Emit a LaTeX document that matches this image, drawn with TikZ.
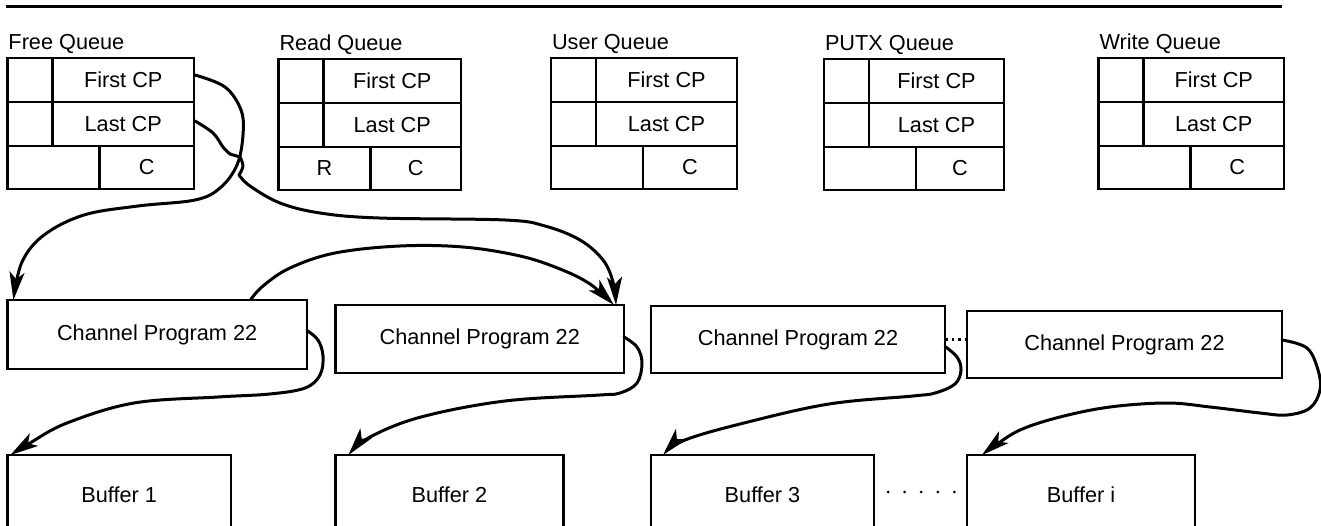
\documentclass[tikz,border=0pt]{standalone}
\usepackage{fontspec}
\setmainfont{Liberation Sans}
\usetikzlibrary{arrows.meta,calc}

\newcommand\diagfont{\fontsize{21.7}{26}\selectfont}

\tikzset{
  cell/.style={draw, line width=2.2pt, inner sep=0pt, outer sep=0pt, anchor=north west, font=\diagfont},
  qlabel/.style={anchor=base west, inner sep=0pt, outer sep=0pt, font=\diagfont},
  cpbox/.style={draw, line width=2.2pt, inner sep=0pt, outer sep=0pt, anchor=north west,
    minimum height=68pt, font=\diagfont},
  bufbox/.style={draw, line width=2.2pt, inner sep=0pt, outer sep=0pt, anchor=north west,
    minimum height=80pt, font=\diagfont},
  conn/.style={line width=3pt, line cap=round, line join=round,
    -{Stealth[length=28pt,width=15pt,inset=7pt]}},
  cpdots/.style={line width=2.6pt, dash pattern=on 2.5pt off 4pt},
  bufdots/.style={line width=3pt, line cap=round, dash pattern=on 0pt off 16.6pt},
}

% one queue header: name, left x, top y, width, title, text of the lower left cell
\newcommand\queuebox[6]{%
  \pgfmathsetmacro\qw{#4-45}%
  \pgfmathsetmacro\qb{#4-92}%
  \node[qlabel] (#1-title) at ({#2+1},{#3-8}) {#5};
  \node[cell, minimum width=45pt, minimum height=44pt] (#1-a) at (#2,#3) {};
  \node[cell, minimum width=\qw pt, minimum height=44pt] (#1-f) at ({#2+45},#3) {First CP};
  \node[cell, minimum width=45pt, minimum height=44pt] (#1-b) at (#2,{#3+44}) {};
  \node[cell, minimum width=\qw pt, minimum height=44pt] (#1-l) at ({#2+45},{#3+44}) {Last CP};
  \node[cell, minimum width=92pt, minimum height=43pt] (#1-r) at (#2,{#3+88}) {#6};
  \node[cell, minimum width=\qb pt, minimum height=43pt] (#1-c) at ({#2+92},{#3+88}) {C};
}

\begin{document}
\begin{tikzpicture}[x=1pt, y=-1pt]
  \fill[white] (0,0) rectangle (1321,526);
  \path[use as bounding box] (0,0) rectangle (1321,526);
  \clip (0,0) rectangle (1321,526);

  % rule across the top
  \draw[line width=2.6pt] (6,6.5) -- (1282,6.5);

  % queue headers
  \queuebox{fq}{7.5}{58}{186.5}{Free Queue}{}
  \queuebox{rq}{278.5}{59}{182.5}{Read Queue}{R}
  \queuebox{uq}{551}{58}{186}{User Queue}{}
  \queuebox{pq}{824}{59}{180}{PUTX Queue}{}
  \queuebox{wq}{1098.5}{58}{185.5}{Write Queue}{}

  % channel programs
  \node[cpbox, minimum width=299.5pt, minimum height=69pt] (cp1) at (7.4,300) {Channel Program 22};
  \node[cpbox, minimum width=288.5pt] (cp2) at (335.5,305) {Channel Program 22};
  \node[cpbox, minimum width=294pt, minimum height=67pt] (cp3) at (651,306) {Channel Program 22};
  \node[cpbox, minimum width=315pt, minimum height=67pt] (cp4) at (967,311) {Channel Program 22};

  % buffers
  \node[bufbox, minimum width=223.6pt] (buf1) at (7.4,455) {Buffer 1};
  \node[bufbox, minimum width=228pt] (buf2) at (335.4,455) {Buffer 2};
  \node[bufbox, minimum width=223pt] (buf3) at (651,455) {Buffer 3};
  \node[bufbox, minimum width=228pt] (bufi) at (967,455) {Buffer i};

  % free queue pointers
  \draw[conn] plot[smooth, tension=.6] coordinates {($(fq-f.east)+(1,-5)$) (225,87) (241,110)
    (243,135) (237,165) (220,188) (195,200) (138,206) (84,215) (44,235) (22,262)
    ($(cp1.north west)+(6,0)$)};
  \draw[conn] plot[smooth, tension=.6] coordinates {($(fq-l.east)+(1,-3)$) (213,133) (223,147) (230,154)}
    -- (240,157)
    -- plot[smooth, tension=.6] coordinates {(240,157) (243,166) (239,175)}
    -- plot[smooth, tension=.6] coordinates {(239,175) (250,186) (280,203) (320,213) (379,218)
    (505,220) (545,226) (580,240) (603,260) (613,282) ($(cp2.north east)+(-8,0)$)};

  % chain of channel programs
  \draw[conn] plot[smooth, tension=.6] coordinates {($(cp1.north west)+(243,0)$) (263,286) (290,268)
    (335,253) (400,246) (463,247) (520,256) (560,269) (590,284) ($(cp2.north east)+(-10,0)$)};
  \draw[cpdots] (cp3.east) -- (cp3.east -| cp4.west);

  % channel program to buffer
  \draw[conn] plot[smooth, tension=.6] coordinates {($(cp1.east)+(0,-4)$) (318,340) (323,356)
    (320,375) (305,388) (270,394) (218,397) (134,403) (67,423) (30,443)
    ($(buf1.north west)+(3,0)$)};
  \draw[conn] plot[smooth, tension=.6] coordinates {($(cp2.east)+(0,-2)$) (637,347) (642,363)
    (637,383) (620,393) (600,395) (505,401) (421,417) (370,437)
    ($(buf2.north west)+(13,0)$)};
  \draw[conn] plot[smooth, tension=.6] coordinates {($(cp3.east)+(0,7)$) (957,357) (961,370)
    (955,384) (935,393) (913,396) (829,404) (744,423) (685,440)
    ($(buf3.north west)+(12,0)$)};
  \draw[conn] plot[smooth, tension=.6] coordinates {($(cp4.east)+(0,-4.5)$) (1307,348) (1318,370)
    (1320,390) (1310,408) (1287,415) (1260,413) (1210,407) (1167,403) (1110,407)
    (1060,417) (1020,430) (993,447) ($(bufi.north west)+(15,0)$)};

  % run of buffers
  \draw[bufdots] ($(buf3.east)+(14,-3)$) -- ($(bufi.west)+(-12,-3)$);
\end{tikzpicture}
\end{document}
